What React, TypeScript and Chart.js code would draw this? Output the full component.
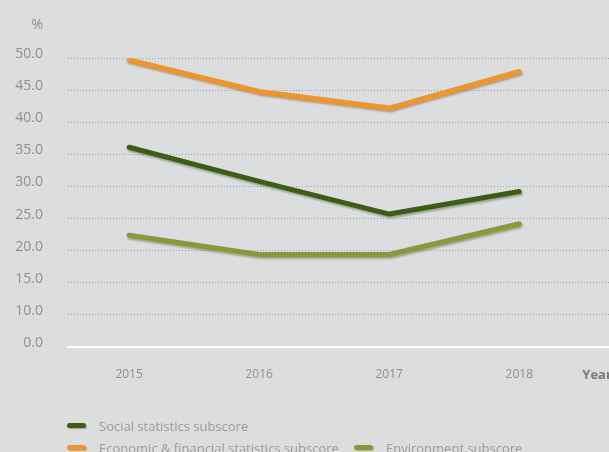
import React, { useEffect, useRef } from 'react';
import { Chart, registerables } from 'chart.js';
Chart.register(...registerables);

const years = [2015, 2016, 2017, 2018];
const social = [36.1, 30.8, 25.7, 29.2];
const economic = [49.7, 44.8, 42.2, 47.9];
const environment = [22.4, 19.4, 19.4, 24.2];
const yTicks = [5, 10, 15, 20, 25, 30, 35, 40, 45, 50];
const yTickLabels = ['0.0', '10.0', '15.0', '20.0', '25.0', '30.0', '35.0', '40.0', '45.0', '50.0'];
const seriesNames = ['Social statistics subscore', 'Economic & financial statistics subscore', 'Environment subscore'];
const seriesColors = ['#3b5f12', '#f7941e', '#879a34'];
const yUnit = '%';
const xTitle = 'Year';

const BG = '#dcdddf';
const TICK = '#8f8f8f';
const FONT = '"Open Sans", "Noto Sans", sans-serif';

export default function App() {
  const ref = useRef<HTMLCanvasElement>(null);
  useEffect(() => {
    if (!ref.current) return;
    const shadow = {
      id: 'shadow',
      beforeDatasetDraw(chart: any) {
        const c = chart.ctx;
        c.save();
        c.shadowColor = 'rgba(0,0,0,0.28)';
        c.shadowOffsetX = 1;
        c.shadowOffsetY = 2;
        c.shadowBlur = 2;
      },
      afterDatasetDraw(chart: any) {
        chart.ctx.restore();
      },
    };
    const extraText = {
      id: 'extraText',
      afterDraw(chart: any) {
        const { ctx, chartArea, scales } = chart;
        ctx.save();
        ctx.fillStyle = TICK;
        ctx.font = `14px ${FONT}`;
        ctx.textAlign = 'right';
        ctx.textBaseline = 'middle';
        ctx.fillText(yUnit, chartArea.left - 25, 25);
        ctx.fillStyle = '#7a7a7a';
        ctx.font = `bold 13px ${FONT}`;
        ctx.textAlign = 'left';
        ctx.fillText(xTitle, scales.x.getPixelForValue(years[years.length - 1]) + 63, 375);
        ctx.restore();
      },
    };
    const datasets = [social, economic, environment].map((d, i) => ({
      label: seriesNames[i],
      data: d.map((v, j) => ({ x: years[j], y: v })),
      borderColor: seriesColors[i],
      backgroundColor: seriesColors[i],
      borderWidth: 5,
      pointRadius: 0,
      borderCapStyle: 'round',
      borderJoinStyle: 'round',
      tension: 0,
    }));
    const chart = new Chart(ref.current, {
      type: 'line',
      data: { datasets: datasets as any },
      plugins: [shadow, extraText],
      options: {
        animation: false,
        responsive: false,
        layout: { padding: { top: 58, left: 0, right: 0, bottom: 0 } },
        plugins: { legend: { display: false }, tooltip: { enabled: false } },
        scales: {
          x: {
            type: 'linear',
            min: 2014.53,
            max: 2018.69,
            afterFit(scale: any) {
              scale.height = 105;
            },
            afterBuildTicks(scale: any) {
              scale.ticks = years.map((v) => ({ value: v }));
            },
            ticks: {
              color: TICK,
              font: { family: FONT, size: 12 },
              padding: 20,
              callback: (v: any) => String(v),
            },
            grid: { display: false, drawTicks: false },
            border: { display: true, color: '#ffffff', width: 2 },
          },
          y: {
            min: 5,
            max: 50,
            afterFit(scale: any) {
              scale.width = 68;
            },
            afterBuildTicks(scale: any) {
              scale.ticks = yTicks.map((v) => ({ value: v }));
            },
            ticks: {
              color: TICK,
              font: { family: FONT, size: 14 },
              padding: 25,
              labelOffset: -4,
              callback: (v: any) => yTickLabels[yTicks.indexOf(Number(v))] ?? '',
            },
            grid: {
              drawTicks: false,
              color: (ctx: any) => (ctx.tick && ctx.tick.value === yTicks[0] ? 'rgba(0,0,0,0)' : '#a3a3a3'),
              lineWidth: 1,
            },
            border: { display: false, dash: [1, 2] },
          },
        },
      } as any,
    });
    return () => chart.destroy();
  }, []);

  const legendRows = [
    [{ i: 0, left: 67 }],
    [
      { i: 1, left: 67 },
      { i: 2, left: 354 },
    ],
  ];
  const rowY = [425.5, 447.5];

  return (
    <div style={{ position: 'absolute', left: 0, top: 0, width: 609, height: 452, background: BG, overflow: 'hidden' }}>
      <canvas ref={ref} width={609} height={452} style={{ position: 'absolute', left: 0, top: 0 }} />
      {legendRows.map((row, r) =>
        row.map((it) => (
          <React.Fragment key={`${r}-${it.i}`}>
            <div
              style={{
                position: 'absolute',
                left: it.left,
                top: rowY[r] - 2.5,
                width: 19,
                height: 5,
                borderRadius: 3,
                background: seriesColors[it.i],
                boxShadow: '1px 1px 1px rgba(0,0,0,0.25)',
              }}
            />
            <div
              style={{
                position: 'absolute',
                left: it.left + 32,
                top: rowY[r] - 9,
                lineHeight: '18px',
                fontSize: 13,
                fontFamily: FONT,
                color: '#9b9b9b',
                whiteSpace: 'nowrap',
              }}
            >
              {seriesNames[it.i]}
            </div>
          </React.Fragment>
        ))
      )}
    </div>
  );
}
